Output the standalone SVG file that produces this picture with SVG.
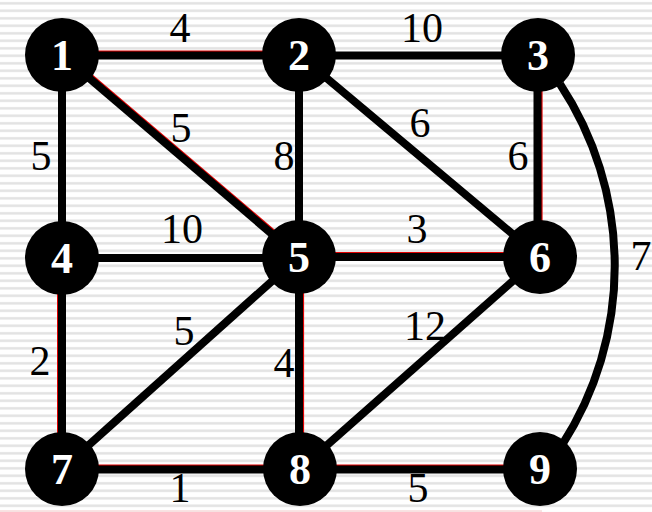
<svg xmlns="http://www.w3.org/2000/svg" width="652" height="512" viewBox="0 0 652 512">
<defs>
<pattern id="stripes" x="0" y="0" width="8" height="7.5" patternUnits="userSpaceOnUse">
<rect x="0" y="0" width="8" height="7.5" fill="#ffffff"/>
<rect x="0" y="2.1" width="8" height="2.4" fill="#e2e2e2"/>
</pattern>
<style>
.e{stroke:#000;stroke-width:8;fill:none}
.r{stroke:#e00000;stroke-width:8;fill:none}
.n{fill:#000}
.nt{font-family:"Liberation Serif","Times New Roman",serif;font-weight:bold;font-size:44px;fill:#fff;text-anchor:middle}
.w{font-family:"Liberation Serif","Times New Roman",serif;font-size:42px;fill:#000;text-anchor:middle}
</style>
</defs>
<rect width="652" height="512" fill="url(#stripes)"/>
<line x1="0" y1="511" x2="542" y2="511" stroke="#f2c6c6" stroke-width="1"/>
<g id="connectors">
<line class="r" x1="62" y1="54.4" x2="299" y2="54.4"/>
<line class="e" x1="62" y1="55.5" x2="299" y2="55.5"/>
<line class="e" x1="299" y1="55.5" x2="538" y2="55.5"/>
<line class="e" x1="62" y1="55" x2="62" y2="258"/>
<line class="r" x1="62.7" y1="54.2" x2="299.7" y2="256.2"/>
<line class="e" x1="62" y1="55" x2="299" y2="257"/>
<line class="e" x1="299" y1="55" x2="299" y2="257"/>
<line class="e" x1="299" y1="55" x2="540" y2="257"/>
<line class="r" x1="538.6" y1="55" x2="538.6" y2="257"/>
<line class="e" x1="537.5" y1="55" x2="537.5" y2="257"/>
<path class="e" d="M 560 84 A 330 330 0 0 1 562 445"/>
<line class="e" x1="62" y1="258" x2="299" y2="258"/>
<line class="r" x1="299" y1="255.9" x2="540" y2="255.9"/>
<line class="e" x1="299" y1="257" x2="540" y2="257"/>
<line class="r" x1="61" y1="258" x2="61" y2="469"/>
<line class="e" x1="62" y1="258" x2="62" y2="469"/>
<line class="e" x1="299" y1="257" x2="62" y2="469"/>
<line class="r" x1="300.1" y1="257" x2="300.1" y2="469"/>
<line class="e" x1="299" y1="257" x2="299" y2="469"/>
<line class="e" x1="540" y1="257" x2="300" y2="469"/>
<line class="r" x1="62" y1="468.4" x2="540" y2="468.4"/>
<line class="e" x1="62" y1="469.5" x2="540" y2="469.5"/>
</g>
<g id="weights">
<text class="w" x="180" y="42">4</text>
<text class="w" x="422" y="42">10</text>
<text class="w" x="41" y="170">5</text>
<text class="w" x="181" y="142">5</text>
<text class="w" x="284" y="170">8</text>
<text class="w" x="420" y="137">6</text>
<text class="w" x="518" y="170">6</text>
<text class="w" x="182" y="243">10</text>
<text class="w" x="417" y="243">3</text>
<text class="w" x="641" y="270">7</text>
<text class="w" x="40" y="375">2</text>
<text class="w" x="184" y="345">5</text>
<text class="w" x="284" y="377">4</text>
<text class="w" x="425" y="340">12</text>
<text class="w" x="180" y="502">1</text>
<text class="w" x="418" y="502">5</text>
</g>
<g id="node1"><circle class="n" cx="62" cy="55" r="37"/><text class="nt" x="62" y="70">1</text></g>
<g id="node2"><circle class="n" cx="299" cy="55" r="37"/><text class="nt" x="299" y="70">2</text></g>
<g id="node3"><circle class="n" cx="538" cy="55" r="37"/><text class="nt" x="538" y="70">3</text></g>
<g id="node4"><circle class="n" cx="62" cy="258" r="37"/><text class="nt" x="62" y="273">4</text></g>
<g id="node5"><circle class="n" cx="299" cy="257" r="37"/><text class="nt" x="299" y="272">5</text></g>
<g id="node6"><circle class="n" cx="540" cy="257" r="37"/><text class="nt" x="540" y="272">6</text></g>
<g id="node7"><circle class="n" cx="62" cy="469" r="37"/><text class="nt" x="62" y="484">7</text></g>
<g id="node8"><circle class="n" cx="300" cy="469" r="37"/><text class="nt" x="300" y="484">8</text></g>
<g id="node9"><circle class="n" cx="540" cy="469" r="37"/><text class="nt" x="540" y="484">9</text></g>
</svg>
